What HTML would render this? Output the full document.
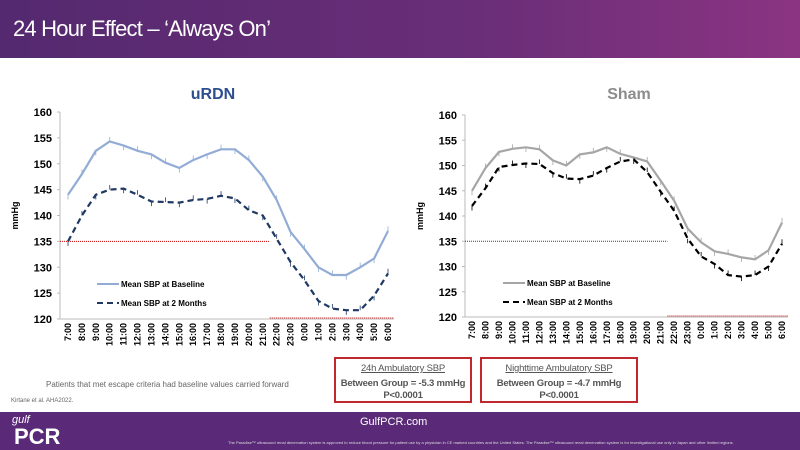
<!DOCTYPE html>
<html><head><meta charset="utf-8"><style>
body{margin:0;width:800px;height:450px;overflow:hidden;background:#fff;font-family:"Liberation Sans",sans-serif;position:relative}
.hdr{position:absolute;left:0;top:0;width:800px;height:58px;background:linear-gradient(90deg,#54296f,#6a2e78 60%,#8b3482)}
.hdr span{position:absolute;left:13px;top:16px;color:#fff;font-size:22px;letter-spacing:-0.8px}
.ftr{position:absolute;left:0;top:412px;width:800px;height:38px;background:#5a2a78}
.box{position:absolute;border:2px solid #c0282e;text-align:center;font-size:9.5px;color:#555;line-height:12px;white-space:nowrap;letter-spacing:-0.2px}
</style></head><body>
<div class="hdr"><span>24 Hour Effect – ‘Always On’</span></div>
<svg id="s" width="800" height="450" style="position:absolute;left:0;top:0"></svg>
<div class="box" style="left:334px;top:357px;width:134px;height:42px"><div style="text-decoration:underline;margin-top:4px">24h Ambulatory SBP</div><div style="font-weight:bold;margin-top:3px">Between Group = -5.3 mmHg</div><div style="font-weight:bold">P&lt;0.0001</div></div>
<div class="box" style="left:480px;top:357px;width:154px;height:42px"><div style="text-decoration:underline;margin-top:4px">Nighttime Ambulatory SBP</div><div style="font-weight:bold;margin-top:3px">Between Group = -4.7 mmHg</div><div style="font-weight:bold">P&lt;0.0001</div></div>
<div style="position:absolute;left:46px;top:380px;font-size:8px;color:#666">Patients that met escape criteria had baseline values carried forward</div>
<div style="position:absolute;left:11px;top:398px;font-size:6px;color:#666">Kirtane et al. AHA2022.</div>
<div class="ftr">
<div style="position:absolute;left:12px;top:2px;color:#fff;font-size:11px;font-style:italic">gulf</div>
<div style="position:absolute;left:14px;top:12px;color:#fff;font-size:22px;font-weight:bold">PCR</div>
<div style="position:absolute;left:360px;top:4px;color:#fff;font-size:11px">GulfPCR.com</div>
<div style="position:absolute;left:228px;top:28px;color:#ddd;font-size:4px;white-space:nowrap">The Paradise™ ultrasound renal denervation system is approved to reduce blood pressure for patient use by a physician in CE marked countries and the United States. The Paradise™ ultrasound renal denervation system is for investigational use only in Japan and other limited regions.</div>
</div>
<script>
const s=document.getElementById('s');let h='';
const hrs=['7:00','8:00','9:00','10:00','11:00','12:00','13:00','14:00','15:00','16:00','17:00','18:00','19:00','20:00','21:00','22:00','23:00','0:00','1:00','2:00','3:00','4:00','5:00','6:00'];
function chart(o){
 const Y=v=>o.y120-(v-120)*(o.y120-o.y160)/40, X=i=>o.x0+i*(o.x1-o.x0)/23;
 h+=`<text x="${o.tx}" y="${o.ty}" font-size="16" font-weight="bold" fill="${o.tc}" text-anchor="middle">${o.title}</text>`;
 h+=`<line x1="${o.ax}" y1="${o.y160}" x2="${o.ax}" y2="${o.y120}" stroke="#bbb"/>`;
 h+=`<line x1="${o.ax}" y1="${o.y120}" x2="${o.x1+6}" y2="${o.y120}" stroke="#bbb"/>`;
 for(let v=120;v<=160;v+=5){h+=`<text x="${o.ax-8}" y="${Y(v)+4}" font-size="11" font-weight="bold" text-anchor="end">${v}</text><line x1="${o.ax-3}" x2="${o.ax}" y1="${Y(v)}" y2="${Y(v)}" stroke="#bbb"/>`;}
 h+=`<text transform="translate(${o.ax-42},${(o.y120+o.y160)/2}) rotate(-90)" font-size="9" font-weight="bold" text-anchor="middle">mmHg</text>`;
 hrs.forEach((t,i)=>h+=`<text transform="translate(${X(i)+3},${o.y120+4}) rotate(-90)" font-size="9" font-weight="bold" text-anchor="end">${t}</text>`);
 const xm=X(14.5);
 h+=`<line x1="${o.ax}" x2="${xm}" y1="${Y(135)}" y2="${Y(135)}" stroke="#c00" stroke-dasharray="1,1"/>`;
 h+=`<line x1="${xm}" x2="${o.x1+6}" y1="${o.y120-1}" y2="${o.y120-1}" stroke="#c00" stroke-dasharray="1,1"/>`;
 const pl=(d,c,w,da)=>{let p=d.map((v,i)=>X(i).toFixed(1)+','+Y(v).toFixed(1)).join(' ');
  d.forEach((v,i)=>h+=`<line x1="${X(i)}" x2="${X(i)}" y1="${Y(v)}" y2="${Y(v+(i%2?1:-1)*0.9)}" stroke="${c}" stroke-width="0.8"/>`);
  h+=`<polyline points="${p}" fill="none" stroke="${c}" stroke-width="${w}" ${da?'stroke-dasharray="'+da+'"':''}/>`;};
 pl(o.b,o.bc,2.2);pl(o.m,o.mc,2.2,'6,4');
 h+=`<line x1="${o.lx}" x2="${o.lx+22}" y1="${o.ly}" y2="${o.ly}" stroke="${o.bc}" stroke-width="2"/><text x="${o.lx+24}" y="${o.ly+3}" font-size="8" font-weight="bold">Mean SBP at Baseline</text>`;
 h+=`<line x1="${o.lx}" x2="${o.lx+22}" y1="${o.ly+19}" y2="${o.ly+19}" stroke="${o.mc}" stroke-width="2" stroke-dasharray="6,4"/><text x="${o.lx+24}" y="${o.ly+22}" font-size="8" font-weight="bold">Mean SBP at 2 Months</text>`;
}
chart({title:'uRDN',tc:'#2e4f8f',tx:213,ty:99,ax:60,x0:68,x1:388,y160:112,y120:319,bc:'#93acd6',mc:'#1f3864',lx:97,ly:284,
 b:[144,148,152.5,154.3,153.5,152.5,151.8,150.2,149.2,150.7,151.8,152.8,152.8,150.7,147.5,143,136.8,133.5,130,128.5,128.5,130,131.7,137],
 m:[135,140,144,145,145.2,144,142.7,142.6,142.5,143,143.2,143.8,143.3,141,140,135.5,131,127.5,123.5,122,121.7,121.7,124.5,128.8]});
chart({title:'Sham',tc:'#8c8c8c',tx:629,ty:99,ax:465,x0:472,x1:782,y160:115,y120:317,bc:'#a6a6a6',mc:'#000',lx:503,ly:283,
 b:[145,149.5,152.7,153.3,153.6,153.2,151,150,152.2,152.6,153.6,152.3,151.6,150.8,147,143,137.5,134.8,133,132.5,131.8,131.4,133.2,138.7],
 m:[142,145.5,149.7,150.1,150.4,150.3,148.5,147.4,147.3,148,149.5,150.8,151.2,148.7,144.8,141,135.5,132,130.5,128.3,128,128.3,130,134.5]});
s.innerHTML=h;
</script>
</body></html>
